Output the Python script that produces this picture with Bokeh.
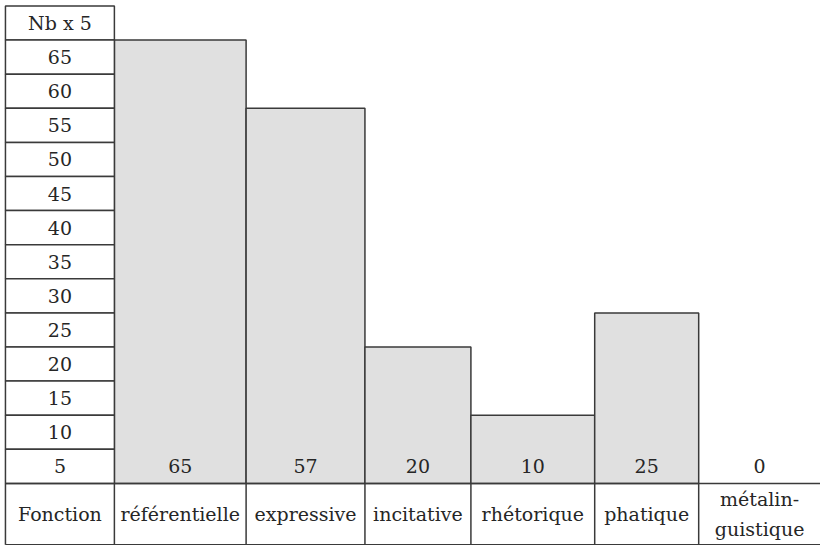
from bokeh.plotting import figure
from bokeh.models import Range1d, ColumnDataSource
from bokeh.core.properties import value
from bokeh.embed import file_html
from bokeh.resources import INLINE

# ---- data ----
categories = ["référentielle", "expressive", "incitative", "rhétorique", "phatique", "métalin-\nguistique"]
bar_heights = [65, 55, 20, 10, 25, 0]
value_labels = ["65", "57", "20", "10", "25", "0"]
scale_ticks = [65, 60, 55, 50, 45, 40, 35, 30, 25, 20, 15, 10, 5]
scale_header = "Nb x 5"
row_header = "Fonction"
step = 5

# ---- layout ----
table_left = 5
label_col_width = 110
col_widths = [133, 120, 107, 125, 105, 123]
footer_depth = 9
FONT = "DejaVu Serif"
FS = "19px"
LINE = "#3a3a3a"
TXT = "#262626"
FILL = "#e0e0e0"

label_right = table_left + label_col_width
lefts, rights = [], []
x = label_right
for w in col_widths:
    lefts.append(x)
    x += w
    rights.append(x)
table_right = x
centers = [(l + r) / 2 for l, r in zip(lefts, rights)]
top_val = scale_ticks[0] + step

p = figure(width=820, height=545, output_backend="svg", toolbar_location=None,
           x_range=Range1d(0, table_right), y_range=Range1d(-footer_depth - 0.1, top_val + 0.8),
           min_border=0)
p.axis.visible = False
p.grid.visible = False
p.outline_line_color = None
p.background_fill_color = "white"

# bars
bsrc = ColumnDataSource(dict(left=[l for l, h in zip(lefts, bar_heights) if h > 0],
                             right=[r for r, h in zip(rights, bar_heights) if h > 0],
                             top=[h for h in bar_heights if h > 0]))
p.quad(left="left", right="right", bottom=0, top="top", source=bsrc,
       fill_color=FILL, line_color=LINE, line_width=1.5)

# left scale column
rows_top = [top_val] + scale_ticks
rows_bottom = [t - step for t in rows_top]
p.quad(left=table_left, right=label_right, bottom=rows_bottom, top=rows_top,
       fill_color="white", line_color=LINE, line_width=1.5)
p.text(x=[(table_left + label_right) / 2] * len(rows_top),
       y=[b + step / 2 for b in rows_bottom],
       text=[scale_header] + [str(t) for t in scale_ticks],
       text_font=value(FONT), text_font_size=value(FS), text_color=TXT,
       text_align="center", text_baseline="middle")

# footer row
p.segment(x0=[table_left, table_left], x1=[table_right, table_right], y0=[0, -footer_depth], y1=[0, -footer_depth],
          line_color=LINE, line_width=1.5)
vx = [table_left, label_right] + rights[:-1]
p.segment(x0=vx, x1=vx, y0=[-footer_depth] * len(vx), y1=[0] * len(vx), line_color=LINE, line_width=1.5)

p.text(x=[(table_left + label_right) / 2] + centers, y=[-footer_depth / 2] * (len(centers) + 1),
       text=[row_header] + categories,
       text_font=value(FONT), text_font_size=value(FS), text_color=TXT,
       text_align="center", text_baseline="middle", text_line_height=1.35)

# value labels
p.text(x=centers, y=[step / 2] * len(centers), text=value_labels,
       text_font=value(FONT), text_font_size=value(FS), text_color=TXT,
       text_align="center", text_baseline="middle")

open("out.html", "w").write(file_html(p, INLINE))
